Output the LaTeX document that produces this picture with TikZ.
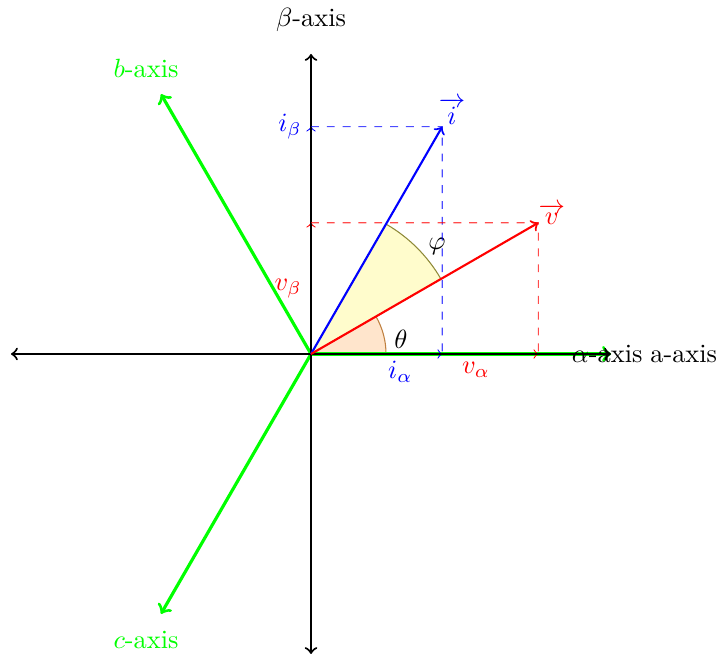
\documentclass[tikz,border=0pt]{standalone}
\usepackage{amsmath,amssymb}
\usetikzlibrary{positioning}

\begin{document}
\begin{tikzpicture}[
        axis/.style={thick,<->},
        abcaxis/.style={very thick,green,->},
        vecline/.style={thick,->},
        projarrow/.style={dashed,->},
        proj/.style={dashed,opacity=0.7}]
        \useasboundingbox (-4.147,-4.053) rectangle (5.453,4.72);
        \coordinate (O) at (0,0);
        \coordinate (I) at (60:3.5);
        \coordinate (V) at (30:3.5);
        \coordinate (Ia) at (1.75,0);
        \coordinate (Ib) at (0,3.031);
        \coordinate (Va) at (3.031,0);
        \coordinate (Vb) at (0,1.75);
        % angle sectors
        \filldraw[fill=yellow!20,draw=olive!60!gray,thin] (O) -- (30:2) arc(30:60:2) -- cycle;
        \filldraw[fill=orange!20,draw=brown,thin] (O) -- (1,0) arc(0:30:1) -- cycle;
        \node (phi) at (1.68,1.43) {$\varphi$};
        \node (theta) at (1.2,0.19) {$\theta$};
        % a, b, c axes
        \draw[abcaxis] (O) -- (0:4) coordinate (A);
        \draw[abcaxis] (O) -- (120:4) coordinate (B);
        \draw[abcaxis] (O) -- (240:4) coordinate (C);
        \node[green] (blabel) at (120:4.4) {$b$-axis};
        \node[green] (clabel) at (240:4.4) {$c$-axis};
        % projections onto the axes
        \draw[projarrow,blue] (O) -- (Ia);
        \draw[projarrow,blue] (O) -- (Ib);
        \draw[projarrow,red] (O) -- (Va);
        \draw[projarrow,red] (O) -- (Vb);
        % alpha beta axes
        \draw[axis] (-4,0) -- (4,0) coordinate (Aend);
        \draw[axis] (0,-4) -- (0,4) coordinate (Bend);
        \node (alabel) at (3.95,0) {$\alpha$-axis};
        \node[right] (aalabel) at (4.4,0) {a-axis};
        \node (blbl) at (0,4.45) {$\beta$-axis};
        \draw[proj,blue] (Ib) -- (I) -- (Ia);
        \draw[proj,red] (Vb) -- (V) -- (Va);
        \draw[vecline,blue] (O) -- (I);
        \draw[vecline,red] (O) -- (V);
        \node[blue] (ilabel) at (1.88,3.24) {$\overrightarrow{i}$};
        \node[red] (vlabel) at (3.21,1.86) {$\overrightarrow{v}$};
        \node[blue,left] (iblabel) at (Ib) {$i_\beta$};
        \node[red,left] (vblabel) at (0,0.875) {$v_\beta$};
        \node[blue] (ialabel) at (1.19,-0.24) {$i_\alpha$};
        \node[red] (valabel) at (2.2,-0.21) {$v_\alpha$};
    \end{tikzpicture}
\end{document}
